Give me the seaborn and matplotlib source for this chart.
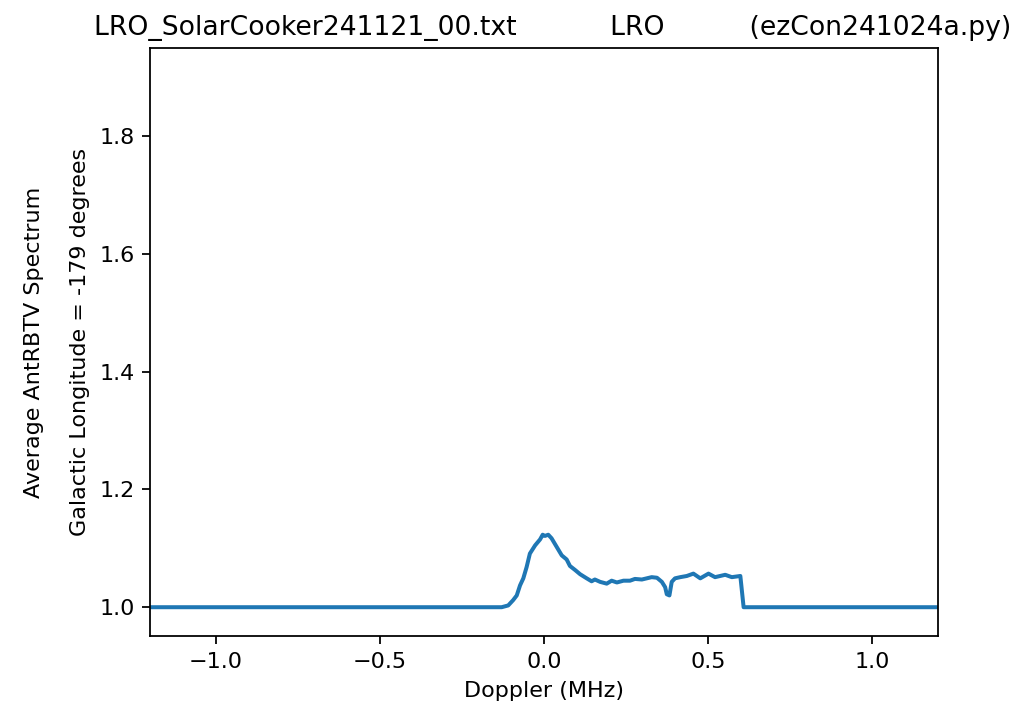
import numpy as np
import pandas as pd
import matplotlib
matplotlib.use('Agg')
import matplotlib.pyplot as plt
import seaborn as sns

# doppler (MHz) and average spectrum
doppler = [-1.2, -0.129, -0.109, -0.094, -0.083, -0.073, -0.063, -0.053, -0.043,
           -0.027, -0.012, -0.004, 0.003, 0.013, 0.023, 0.039, 0.054, 0.069, 0.079,
           0.095, 0.110, 0.130, 0.145, 0.155, 0.171, 0.191, 0.206, 0.222, 0.242,
           0.262, 0.277, 0.298, 0.313, 0.328, 0.344, 0.359, 0.369, 0.374, 0.382,
           0.389, 0.399, 0.415, 0.435, 0.455, 0.476, 0.501, 0.521, 0.552, 0.572,
           0.598, 0.608, 1.2]
spectrum = [1.0, 1.0, 1.003, 1.012, 1.020, 1.037, 1.049, 1.068, 1.091,
            1.105, 1.115, 1.123, 1.121, 1.123, 1.117, 1.102, 1.088, 1.081, 1.070,
            1.063, 1.056, 1.049, 1.044, 1.047, 1.043, 1.040, 1.045, 1.042, 1.045,
            1.045, 1.048, 1.047, 1.049, 1.051, 1.050, 1.043, 1.034, 1.022, 1.020,
            1.043, 1.049, 1.051, 1.053, 1.057, 1.049, 1.057, 1.051, 1.055, 1.051,
            1.053, 1.0, 1.0]

df = pd.DataFrame({'doppler': doppler, 'spectrum': spectrum})

fig = plt.figure(figsize=(6.4, 4.5125), dpi=160)
ax = fig.add_axes([0.1465, 0.119, 0.7695, 0.8145])
sns.lineplot(data=df, x='doppler', y='spectrum', ax=ax, linewidth=1.8)

ax.set_xlim(-1.2, 1.2)
ax.set_ylim(0.951, 1.949)
ax.set_yticks([1.0, 1.2, 1.4, 1.6, 1.8])
ax.set_xlabel('Doppler (MHz)')
ax.set_ylabel('Average AntRBTV Spectrum\n\nGalactic Longitude = -179 degrees')
ax.set_title('  LRO_SolarCooker241121_00.txt           LRO          (ezCon241024a.py)')

fig.savefig('out.png', dpi=160)
